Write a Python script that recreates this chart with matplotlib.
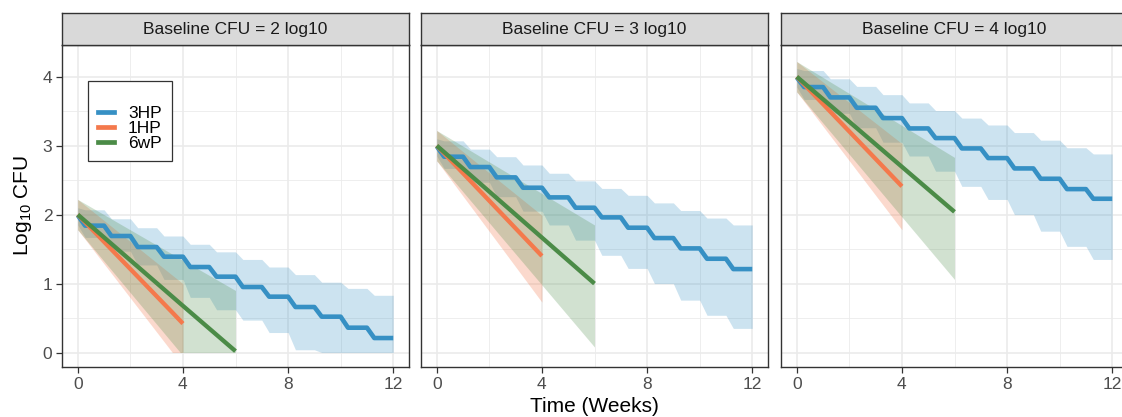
import numpy as np
import matplotlib
matplotlib.use('Agg')
import matplotlib.pyplot as plt
from matplotlib.lines import Line2D

plt.rcParams['font.family'] = ['Liberation Sans', 'DejaVu Sans']
plt.rcParams['mathtext.fontset'] = 'custom'
plt.rcParams['mathtext.rm'] = 'Liberation Sans'
plt.rcParams['mathtext.it'] = 'Liberation Sans:italic'

# facet titles
panels = ['Baseline CFU = 2 log10', 'Baseline CFU = 3 log10', 'Baseline CFU = 4 log10']
regimens = ['3HP', '1HP', '6wP']
colors = {'3HP': '#3690C4', '1HP': '#F4794C', '6wP': '#4B8B47'}

# 3HP weekly levels: value at t=0, then level after the drop of week 0..11
hp3_mid = [
    [1.99, 1.84, 1.69, 1.53, 1.39, 1.24, 1.10, 0.95, 0.81, 0.66, 0.52, 0.36, 0.21],
    [2.99, 2.84, 2.69, 2.54, 2.39, 2.25, 2.10, 1.96, 1.81, 1.66, 1.51, 1.36, 1.21],
    [3.99, 3.85, 3.70, 3.55, 3.40, 3.25, 3.11, 2.96, 2.82, 2.67, 2.52, 2.37, 2.23],
]
hp3_lo = [
    [1.85, 1.67, 1.47, 1.27, 1.06, 0.80, 0.62, 0.47, 0.29, 0.04, 0.0, 0.0, 0.0],
    [2.85, 2.67, 2.47, 2.26, 2.05, 1.85, 1.63, 1.41, 1.22, 1.00, 0.76, 0.54, 0.35],
    [3.85, 3.67, 3.47, 3.26, 3.05, 2.85, 2.63, 2.41, 2.22, 2.00, 1.76, 1.54, 1.35],
]
hp3_hi = [
    [2.10, 2.07, 1.94, 1.81, 1.69, 1.57, 1.46, 1.35, 1.24, 1.13, 1.02, 0.93, 0.83],
    [3.10, 3.07, 2.95, 2.84, 2.72, 2.60, 2.49, 2.38, 2.28, 2.17, 2.06, 1.95, 1.85],
    [4.12, 4.09, 3.97, 3.86, 3.74, 3.62, 3.51, 3.40, 3.30, 3.19, 3.08, 2.97, 2.88],
]

# 1HP (straight decline over 4 weeks, lower bound floored at 0)
hp1_t = [[0, 3.6, 4], [0, 4], [0, 4]]
hp1_mid = [[2.0, 0.58, 0.42], [3.0, 1.40], [4.0, 2.41]]
hp1_lo = [[1.78, 0.0, 0.0], [2.78, 0.73], [3.78, 1.78]]
hp1_hi = [[2.22, 1.12, 1.0], [3.22, 1.99], [4.22, 3.03]]

# 6wP (straight decline over 6 weeks)
wp6_t = [[0, 3.9, 6], [0, 6], [0, 6]]
wp6_mid = [[2.0, 0.71, 0.02], [3.0, 1.0], [4.0, 2.04]]
wp6_lo = [[1.78, 0.0, 0.0], [2.78, 0.08], [3.78, 1.06]]
wp6_hi = [[2.22, 1.36, 0.90], [3.22, 1.85], [4.22, 2.83]]

x_ticks = [0, 4, 8, 12]
y_ticks = [0, 1, 2, 3, 4]


def weekly_steps(levels, ramp=0.28):
    # weekly dose: level drops over a short ramp starting at each week
    t, y = [0.0], [levels[0]]
    for k in range(1, len(levels)):
        t += [k - 1 + ramp]
        y += [levels[k]]
        end = k if k < len(levels) - 1 else 12
        t += [end]
        y += [levels[k]]
    return np.array(t), np.array(y)


W, H = 1122, 417
fig = plt.figure(figsize=(W / 100, H / 100), dpi=100)

lefts = [62, 421, 781]
pw, top, bot, strip_h = 347, 45, 367, 32
grid_c = '#EBEBEB'
frame_c = '#333333'

for i, name in enumerate(panels):
    ax = fig.add_axes([lefts[i] / W, (H - bot) / H, pw / W, (bot - top) / H])
    ax.set_xlim(-0.6, 12.6)
    ax.set_ylim(-0.21, 4.46)

    ax.set_xticks(x_ticks)
    ax.set_xticks([2, 6, 10], minor=True)
    ax.set_yticks(y_ticks)
    ax.set_yticks([0.5, 1.5, 2.5, 3.5], minor=True)
    ax.grid(which='major', color=grid_c, lw=1.2)
    ax.grid(which='minor', color=grid_c, lw=0.6)
    ax.set_axisbelow(True)
    ax.tick_params(which='minor', length=0)
    ax.tick_params(which='major', length=4, width=0.9, color=frame_c,
                   labelsize=12.5, labelcolor='#4D4D4D', pad=3)
    if i > 0:
        ax.tick_params(axis='y', left=False, labelleft=False)
    for s in ax.spines.values():
        s.set_color(frame_c)
        s.set_linewidth(1.0)

    t3, m3 = weekly_steps(hp3_mid[i])
    _, lo3 = weekly_steps(hp3_lo[i])
    _, hi3 = weekly_steps(hp3_hi[i])

    ax.fill_between(t3, lo3, hi3, color=colors['3HP'], alpha=0.25, lw=0)
    ax.fill_between(hp1_t[i], hp1_lo[i], hp1_hi[i], color=colors['1HP'], alpha=0.28, lw=0)
    ax.fill_between(wp6_t[i], wp6_lo[i], wp6_hi[i], color=colors['6wP'], alpha=0.25, lw=0)

    ax.plot(t3, m3, color=colors['3HP'], lw=3.3, solid_capstyle='butt',
            solid_joinstyle='round')
    ax.plot(hp1_t[i], hp1_mid[i], color=colors['1HP'], lw=3.1, solid_capstyle='butt')
    ax.plot(wp6_t[i], wp6_mid[i], color=colors['6wP'], lw=3.1, solid_capstyle='butt')

    # facet strip
    sax = fig.add_axes([lefts[i] / W, (H - top) / H, pw / W, strip_h / H])
    sax.set_facecolor('#D9D9D9')
    sax.set_xticks([])
    sax.set_yticks([])
    for s in sax.spines.values():
        s.set_color(frame_c)
        s.set_linewidth(1.0)
    sax.text(0.5, 0.48, name, ha='center', va='center', fontsize=12.5,
             color='#1A1A1A', transform=sax.transAxes)

    if i == 0:
        ax.set_ylabel('Log$_{10}$ CFU', fontsize=15, labelpad=6)
        handles = [Line2D([], [], color=colors[r], lw=3.4) for r in regimens]
        leg = ax.legend(handles, regimens, loc='upper left',
                        bbox_to_anchor=(0.075, 0.888), borderaxespad=0,
                        title=' ', title_fontsize=11, fontsize=12.5,
                        handlelength=0.9, handletextpad=0.8, labelspacing=0.0,
                        borderpad=0.6, fancybox=False, framealpha=1)
        leg.get_frame().set_edgecolor('#333333')
        leg.get_frame().set_linewidth(0.9)

fig.text((lefts[1] + pw / 2) / W, 1 - 406 / H, 'Time (Weeks)', ha='center',
         va='center', fontsize=15)

fig.savefig('out.png', dpi=100)
